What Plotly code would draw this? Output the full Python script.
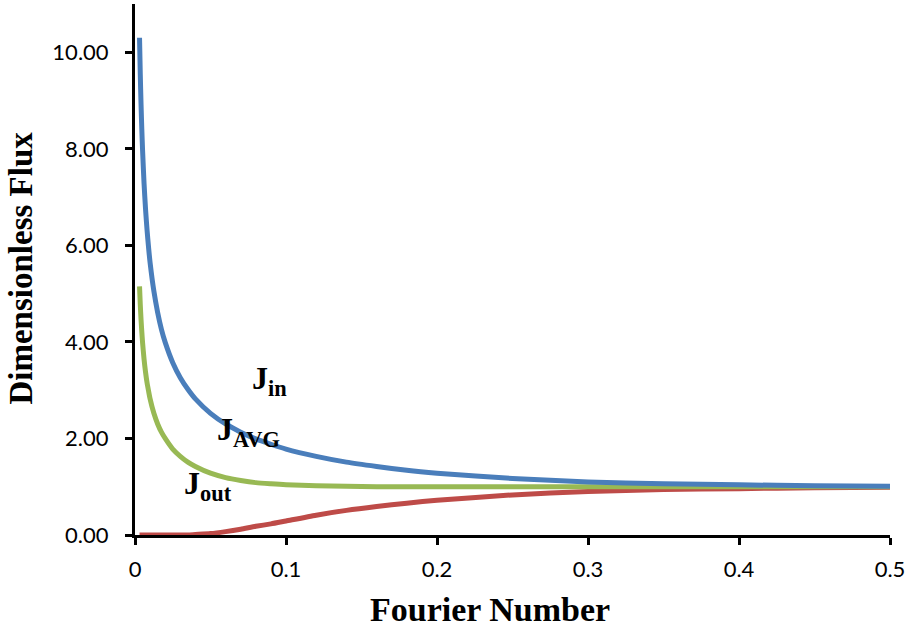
import plotly.graph_objects as go

# Fourier number (dimensionless time)
fourier = [0.003, 0.0035, 0.004, 0.0045, 0.005, 0.006, 0.007, 0.008, 0.009, 0.01,
           0.0125, 0.015, 0.0175, 0.02, 0.025, 0.03, 0.035, 0.04, 0.05, 0.06,
           0.07, 0.08, 0.09, 0.1, 0.12, 0.14, 0.16, 0.18, 0.2, 0.25,
           0.3, 0.35, 0.4, 0.45, 0.5]

# Dimensionless flux at the inlet face
j_in = [10.30, 9.54, 8.92, 8.41, 7.98, 7.28, 6.74, 6.31, 5.95, 5.64,
        5.05, 4.61, 4.26, 3.99, 3.57, 3.26, 3.02, 2.82, 2.52, 2.30,
        2.13, 1.99, 1.88, 1.78, 1.63, 1.51, 1.42, 1.34, 1.28, 1.17,
        1.10, 1.06, 1.04, 1.02, 1.01]

# Dimensionless flux averaged over the slab
j_avg = [5.15, 4.77, 4.46, 4.21, 3.99, 3.64, 3.37, 3.15, 2.98, 2.82,
         2.52, 2.30, 2.13, 2.00, 1.78, 1.63, 1.51, 1.42, 1.28, 1.19,
         1.13, 1.085, 1.06, 1.04, 1.02, 1.01, 1.00, 1.00, 1.00, 1.00,
         1.00, 1.00, 1.00, 1.00, 1.00]

# Dimensionless flux at the outlet face
j_out = [0.00, 0.00, 0.00, 0.00, 0.00, 0.00, 0.00, 0.00, 0.00, 0.00,
         0.00, 0.00, 0.00, 0.00, 0.00, 0.00, 0.00, 0.01, 0.03, 0.07,
         0.12, 0.18, 0.23, 0.29, 0.41, 0.51, 0.59, 0.66, 0.72, 0.83,
         0.90, 0.94, 0.96, 0.98, 0.99]

y_ticks = [0, 2, 4, 6, 8, 10]
x_ticks = [0, 0.1, 0.2, 0.3, 0.4, 0.5]

BLUE = "#4A7EBB"
RED = "#BE4B48"
GREEN = "#98B954"

fig = go.Figure()
for ys, col in [(j_out, RED), (j_avg, GREEN), (j_in, BLUE)]:
    fig.add_trace(go.Scatter(x=fourier, y=ys, mode="lines",
                             line=dict(color=col, width=5, shape="spline", smoothing=0.6),
                             showlegend=False, hoverinfo="skip"))

# Curve labels
label_font = dict(family="Liberation Serif", size=32, color="black")
labels = [
    ("J<sub>in</sub>", 0.0762, 3.21),
    ("J<sub>AVG</sub>", 0.0530, 2.15),
    ("J<sub>out</sub>", 0.0310, 1.03),
]
for txt, lx, ly in labels:
    fig.add_annotation(x=lx, y=ly, text="<b>" + txt + "</b>", showarrow=False,
                       xanchor="left", yanchor="middle", font=label_font)

tick_font = dict(family="Lato", size=22, color="black")
title_font = dict(family="Liberation Serif", size=34, color="black")

# Axis titles
fig.add_annotation(xref="paper", yref="paper", x=0.470, y=-0.141,
                   text="<b>Fourier Number</b>", showarrow=False,
                   xanchor="center", yanchor="middle", font=title_font)
fig.add_annotation(xref="paper", yref="paper", x=-0.1515, y=0.503,
                   text="<b>Dimensionless Flux</b>", showarrow=False, textangle=-90,
                   xanchor="center", yanchor="middle", borderpad=0,
                   font=dict(family="Liberation Serif", size=33, color="black"))

fig.update_xaxes(range=[0, 0.5], tickvals=x_ticks, ticktext=[f"{v:g}" for v in x_ticks],
                 showline=True, linecolor="black", linewidth=3,
                 ticks="outside", ticklen=7, tickwidth=3, tickcolor="black",
                 ticklabelstandoff=6,
                 showgrid=False, zeroline=False, tickfont=tick_font)
fig.update_yaxes(range=[0, 11], tickvals=y_ticks, ticktext=[f"{v:.2f}" for v in y_ticks],
                 showline=True, linecolor="black", linewidth=3,
                 ticks="outside", ticklen=7, tickwidth=3, tickcolor="black",
                 ticklabelstandoff=12,
                 showgrid=False, zeroline=False, tickfont=tick_font)

fig.update_layout(width=909, height=632, paper_bgcolor="white", plot_bgcolor="white",
                  margin=dict(l=135, r=19, t=4, b=97))

fig.write_html("out.html")
